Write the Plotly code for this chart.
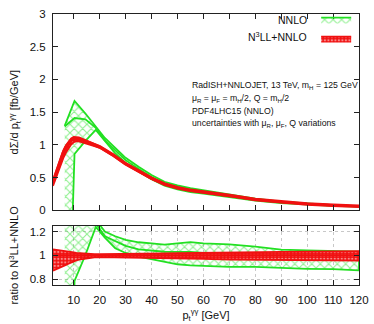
import numpy as np
import plotly.graph_objects as go

GREEN = "#22e022"
RED = "#f01010"
FONT = "Liberation Sans, Arial, sans-serif"

# N3LL+NNLO central prediction [fb/GeV] and its relative uncertainty band
pt_res = [2, 4, 6, 7, 8, 9, 10, 11, 12, 13, 15, 18, 20, 25, 30, 35, 40, 45, 50,
          55, 60, 70, 80, 90, 100, 110, 120]
res_central = [0.43, 0.66, 0.88, 0.96, 1.02, 1.07, 1.095, 1.10, 1.095, 1.08, 1.05,
               1.00, 0.97, 0.85, 0.71, 0.60, 0.49, 0.40, 0.345, 0.305, 0.28, 0.228,
               0.165, 0.125, 0.097, 0.077, 0.063]
res_up_ratio = [1.05, 1.045, 1.04, 1.035, 1.03, 1.027, 1.024, 1.02, 1.018, 1.016,
                1.013, 1.01, 1.01, 1.01, 1.01, 1.012, 1.014, 1.016, 1.018, 1.02,
                1.022, 1.025, 1.027, 1.029, 1.031, 1.033, 1.035]
res_lo_ratio = [0.87, 0.89, 0.91, 0.92, 0.93, 0.94, 0.95, 0.957, 0.963, 0.968, 0.975,
                0.982, 0.985, 0.987, 0.987, 0.985, 0.982, 0.978, 0.975, 0.972, 0.97,
                0.965, 0.962, 0.96, 0.958, 0.956, 0.955]

# fixed-order NNLO [fb/GeV]
pt_nnlo = [6.5, 10.3, 14.5, 18.5, 22, 26, 30, 35, 40, 45, 50, 55, 60, 70, 80, 90,
           100, 110, 120]
nnlo_up = [1.29, 1.67, 1.48, 1.29, 1.106, 0.954, 0.802, 0.666, 0.539, 0.436, 0.380,
           0.339, 0.308, 0.249, 0.177, 0.131, 0.101, 0.080, 0.065]
nnlo_central = [1.28, 1.41, 1.39, 1.26, 1.07, 0.921, 0.767, 0.63, 0.51, 0.412, 0.355,
                0.314, 0.286, 0.230, 0.165, 0.124, 0.096, 0.076, 0.062]
nnlo_lo = [-4.0, 0.86, 1.06, 1.23, 1.06, 0.871, 0.724, 0.594, 0.475, 0.378, 0.319,
           0.279, 0.255, 0.206, 0.149, 0.112, 0.086, 0.068, 0.055]

info_lines = [
    "RadISH+NNLOJET, 13 TeV, m<sub>H</sub> = 125 GeV",
    "μ<sub>R</sub> = μ<sub>F</sub> = m<sub>H</sub>/2, Q = m<sub>H</sub>/2",
    "PDF4LHC15 (NNLO)",
    "uncertainties with μ<sub>R</sub>, μ<sub>F</sub>, Q variations",
]

res_c = np.array(res_central)
res_up = res_c * np.array(res_up_ratio)
res_lo = res_c * np.array(res_lo_ratio)
ref_at_nnlo = np.interp(pt_nnlo, pt_res, res_central)
r_up = np.array(nnlo_up) / ref_at_nnlo
r_c = np.array(nnlo_central) / ref_at_nnlo
r_lo = np.array(nnlo_lo) / ref_at_nnlo

GREEN_PAT = dict(shape="x", fgcolor=GREEN, bgcolor="rgba(0,0,0,0)", size=6, solidity=0.33)
RED_PAT = dict(shape=".", fgcolor="white", bgcolor=RED, size=3.5, solidity=0.35)


def band(x, lo, hi, color, pattern, xa, ya, show):
    x = list(x)
    return go.Scatter(
        x=x + x[::-1], y=list(hi) + list(lo)[::-1],
        mode="lines", fill="toself", fillcolor="rgba(0,0,0,0)",
        fillpattern=pattern, line=dict(color=color, width=1.8),
        xaxis=xa, yaxis=ya, name="", showlegend=show, hoverinfo="skip",
    )


fig = go.Figure()
# top panel
fig.add_trace(band(pt_nnlo, nnlo_lo, nnlo_up, GREEN, GREEN_PAT, "x", "y", True))
fig.add_trace(go.Scatter(x=pt_nnlo, y=nnlo_central, mode="lines",
                         line=dict(color=GREEN, width=1.8), showlegend=False,
                         xaxis="x", yaxis="y"))
fig.add_trace(band(pt_res, res_lo, res_up, RED, RED_PAT, "x", "y", True))
fig.add_trace(go.Scatter(x=pt_res, y=res_central, mode="lines",
                         line=dict(color=RED, width=3.5), showlegend=False,
                         xaxis="x", yaxis="y"))
# ratio panel
fig.add_trace(band(pt_nnlo, r_lo, r_up, GREEN, GREEN_PAT, "x2", "y2", False))
fig.add_trace(go.Scatter(x=pt_nnlo, y=r_c, mode="lines",
                         line=dict(color=GREEN, width=1.8), showlegend=False,
                         xaxis="x2", yaxis="y2"))
fig.add_trace(band(pt_res, res_lo_ratio, res_up_ratio, RED, RED_PAT, "x2", "y2", False))
fig.add_trace(go.Scatter(x=pt_res, y=res_c / res_c, mode="lines",
                         line=dict(color=RED, width=2), showlegend=False,
                         xaxis="x2", yaxis="y2"))

axis_common = dict(
    showline=True, linecolor="#222", linewidth=1, mirror="ticks",
    ticks="inside", ticklen=5, tickcolor="#222", zeroline=False,
    tickfont=dict(family=FONT, size=11.5, color="#111"),
)
xticks = list(range(10, 121, 10))

fig.update_layout(
    width=374, height=324,
    margin=dict(l=53, r=11, t=5, b=36),
    plot_bgcolor="white", paper_bgcolor="white",
    font=dict(family=FONT, size=11, color="#111"),
    xaxis=dict(axis_common, domain=[0, 1], anchor="y", range=[2, 120],
               tickvals=xticks, showticklabels=False, showgrid=False, matches="x2"),
    yaxis=dict(axis_common, domain=[0.2756, 1], anchor="x", range=[0, 3],
               dtick=0.5, showgrid=False, ticklabelstandoff=4,
               title=dict(text="dΣ/d p<sub>t</sub><sup>γγ</sup> [fb/GeV]",
                          font=dict(size=11), standoff=8)),
    xaxis2=dict(axis_common, domain=[0, 1], anchor="y2", range=[2, 120],
                tickvals=xticks, showgrid=True, gridcolor="#c8c8c8", griddash="dot",
                ticklabelstandoff=4,
                title=dict(text="p<sub>t</sub><sup>γγ</sup> [GeV]",
                           font=dict(size=11), standoff=6)),
    yaxis2=dict(axis_common, domain=[0, 0.219], anchor="x2", range=[0.75, 1.25],
                tickvals=[0.8, 1, 1.2], showgrid=True, gridcolor="#c8c8c8",
                griddash="dot", ticklabelstandoff=4,
                title=dict(text="ratio to N<sup>3</sup>LL+NNLO",
                           font=dict(size=11), standoff=8)),
    legend=dict(x=0.86, y=1.033, xanchor="left", yanchor="top",
                bgcolor="rgba(0,0,0,0)", font=dict(size=10), itemwidth=30,
                tracegroupgap=0),
    showlegend=True,
)

fig.add_annotation(text="NNLO", x=0.835, y=0.978, xref="paper", yref="paper",
                   xanchor="right", yanchor="middle", showarrow=False,
                   font=dict(size=10.5))
fig.add_annotation(text="N<sup>3</sup>LL+NNLO", x=0.835, y=0.917, xref="paper",
                   yref="paper", xanchor="right", yanchor="middle", showarrow=False,
                   font=dict(size=10.5))

for i, line in enumerate(info_lines):
    fig.add_annotation(text=line, x=0.448, y=0.737 - i * 0.0475, xref="paper",
                       yref="paper", xanchor="left", yanchor="middle",
                       showarrow=False, font=dict(size=8.7))

fig.write_html("out.html", config={"displayModeBar": False},
               post_script="document.body.style.margin='0';")
